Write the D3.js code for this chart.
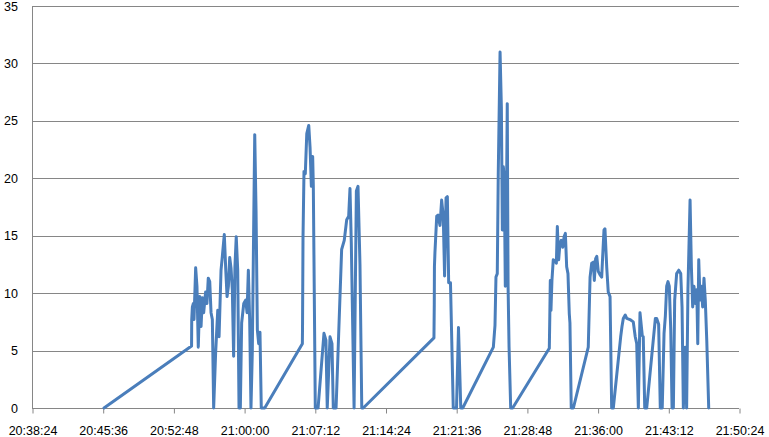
<!DOCTYPE html>
<html>
<head>
<meta charset="utf-8">
<script src="https://cdn.jsdelivr.net/npm/d3@7/dist/d3.min.js"></script>
<style>
  html, body { margin: 0; padding: 0; background: #ffffff; }
  svg { display: block; }
  text { font-family: "Liberation Sans", Arial, sans-serif; font-size: 12.5px; fill: #000; }
</style>
</head>
<body>
<svg id="chart" width="769" height="437"></svg>
<script>
// ---- data ----
// start and end of the time axis (clock time)
const startClock = "20:38:24";
const endClock = "21:50:24";
// seconds elapsed after 20:38:24 for every reading
const timeSec = [
  440, 975, 976, 980, 986, 990, 1000, 1008, 1016, 1025, 1033, 1041, 1049, 1061, 1069, 1077, 1086, 1094, 1102, 1110,
  1122, 1135, 1143, 1155, 1163, 1175, 1184, 1192, 1200, 1208, 1216, 1224, 1232, 1240, 1248, 1257, 1265, 1273, 1281, 1294,
  1306, 1314, 1322, 1330, 1338, 1346, 1355, 1361, 1369, 1377, 1385, 1393, 1401, 1422,
  1652, 1653, 1656, 1662, 1670, 1679, 1691, 1699, 1707, 1715, 1719, 1731, 1748, 1784, 1796, 1804, 1821, 1833, 1841, 1858,
  1892, 1908, 1923, 1935, 1943, 1951, 1968, 1982, 1992, 2004, 2015, 2024,
  2456, 2458, 2459, 2462, 2473, 2481, 2493, 2503, 2513, 2521, 2530, 2538, 2546, 2557, 2565, 2574, 2594, 2606, 2620, 2632,
  2819, 2829, 2835, 2843, 2849, 2860, 2868, 2874, 2880, 2886, 2892, 2898, 2904, 2909, 2915, 2925, 2937,
  3161, 3164, 3167, 3171, 3177, 3185, 3196, 3204, 3210, 3218, 3226, 3234, 3243, 3251, 3259, 3267, 3275, 3283, 3287, 3295, 3308,
  3399, 3410, 3420, 3430, 3436, 3444, 3451, 3460, 3471, 3481, 3487, 3495, 3501, 3512, 3521, 3532, 3542, 3552,
  3597, 3605, 3613, 3625, 3634, 3654, 3674, 3686, 3695, 3705, 3715, 3729, 3735, 3744, 3756,
  3809, 3817, 3829, 3839, 3851, 3862, 3870, 3878, 3886, 3894, 3903, 3911, 3919, 3927, 3939, 3952, 3964, 3972, 3980, 3992,
  4000, 4008, 4021, 4029, 4037, 4045, 4053, 4062, 4068, 4074, 4082, 4090, 4098, 4106, 4114, 4123, 4135
];
// reading at each of those times
const values = [
  0, 5.4, 7.7, 8.8, 9.1, 7.7, 12.2, 10.6, 5.3, 9.7, 7.1, 9.6, 8.3, 10.1, 9.1, 11.3, 11.0, 8.3, 7.7, 0,
  4.8, 8.5, 6.2, 12.0, 13.2, 15.1, 12.0, 9.7, 10.6, 13.1, 12.2, 10.3, 4.5, 12.3, 14.9, 12.0, 0, 0, 7.4, 9.1,
  9.4, 8.3, 12.0, 7.7, 0, 4.8, 16.4, 23.8, 17.2, 6.8, 5.6, 6.6, 0, 0,
  5.6, 7.0, 14.9, 20.6, 20.4, 23.9, 24.6, 22.7, 19.3, 21.9, 19.3, 0, 0, 6.5, 5.9, 0, 6.2, 5.6, 0, 0,
  13.8, 14.6, 16.4, 16.7, 19.1, 14.4, 0, 18.9, 19.3, 12.5, 0, 0,
  6.1, 9.0, 12.3, 13.5, 16.7, 16.8, 15.9, 18.1, 16.7, 11.5, 18.3, 18.4, 10.9, 10.9, 5.8, 0, 0, 7.0, 0, 0,
  5.3, 7.2, 11.4, 11.7, 20.4, 31.0, 26.2, 15.5, 21.0, 19.9, 10.6, 15.8, 26.5, 10.6, 5.3, 0, 0,
  5.2, 8.0, 11.1, 8.5, 11.1, 12.9, 12.8, 12.6, 15.8, 12.9, 14.3, 14.6, 14.0, 14.9, 15.2, 12.3, 11.7, 8.2, 7.4, 0, 0,
  5.3, 11.4, 12.6, 12.7, 11.1, 13.0, 13.2, 11.9, 11.6, 11.4, 13.2, 15.5, 15.6, 12.2, 10.1, 9.7, 0, 0,
  6.2, 7.1, 7.8, 8.1, 7.8, 7.7, 7.5, 6.2, 5.6, 0, 8.3, 6.3, 6.2, 0, 0,
  7.8, 7.8, 7.3, 0, 0, 6.5, 8.0, 10.6, 11.0, 10.6, 6.8, 0, 0, 9.4, 11.7, 12.0, 11.7, 8.8, 0, 5.3,
  0, 10.3, 18.1, 12.3, 8.8, 10.6, 9.1, 10.3, 5.6, 12.9, 9.4, 10.6, 8.8, 11.3, 9.4, 5.9, 0
];
const yTicks = [0, 5, 10, 15, 20, 25, 30, 35];
const xTickLabels = ["20:38:24", "20:45:36", "20:52:48", "21:00:00", "21:07:12", "21:14:24",
                     "21:21:36", "21:28:48", "21:36:00", "21:43:12", "21:50:24"];

(function () {
  function toSec(s) { const p = s.split(":").map(Number); return p[0] * 3600 + p[1] * 60 + p[2]; }
  const t0 = toSec(startClock);
  const span = toSec(endClock) - t0;
  const xTickSec = xTickLabels.map(s => toSec(s) - t0);
  const points = timeSec.map((t, i) => ({ t, v: values[i] }));

  const svg = d3.select("#chart");
  const padL = 32, padR = 739, padT = 6, padB = 408;

  const x = d3.scaleLinear().domain([0, span]).range([padL, padR]);
  const y = d3.scaleLinear().domain([0, 35]).range([padB, padT]);

  // horizontal gridlines
  svg.append("g").selectAll("line").data(yTicks).join("line")
    .attr("x1", padL).attr("x2", padR)
    .attr("y1", d => Math.round(y(d)) + 0.5).attr("y2", d => Math.round(y(d)) + 0.5)
    .attr("stroke", "#868686").attr("stroke-width", 1);

  // y axis line
  svg.append("line")
    .attr("x1", padL + 0.5).attr("x2", padL + 0.5)
    .attr("y1", padT).attr("y2", padB + 0.5)
    .attr("stroke", "#868686").attr("stroke-width", 1);

  // y labels
  svg.append("g").selectAll("text").data(yTicks).join("text")
    .attr("x", 18).attr("y", d => y(d) + 4.5)
    .attr("text-anchor", "end")
    .text(d => d);

  // x axis
  const xAxis = d3.axisBottom(x)
    .tickValues(xTickSec)
    .tickSize(5)
    .tickFormat((d, i) => xTickLabels[i]);
  const gx = svg.append("g")
    .attr("transform", `translate(0.5,${padB + 0.5})`)
    .call(xAxis);
  gx.select(".domain").remove();
  gx.attr("font-family", null).attr("font-size", null);
  gx.selectAll(".tick line").attr("stroke", "#868686");
  gx.selectAll(".tick text")
    .attr("y", 26).attr("dy", 0)
    .attr("fill", "#000");

  // data line
  const line = d3.line()
    .x(d => x(d.t))
    .y(d => y(d.v))
    .curve(d3.curveLinear);

  svg.append("path")
    .datum(points)
    .attr("d", line)
    .attr("fill", "none")
    .attr("stroke", "#4a7ebb")
    .attr("stroke-width", 3)
    .attr("stroke-linejoin", "round")
    .attr("stroke-linecap", "round");
})();
</script>
</body>
</html>
